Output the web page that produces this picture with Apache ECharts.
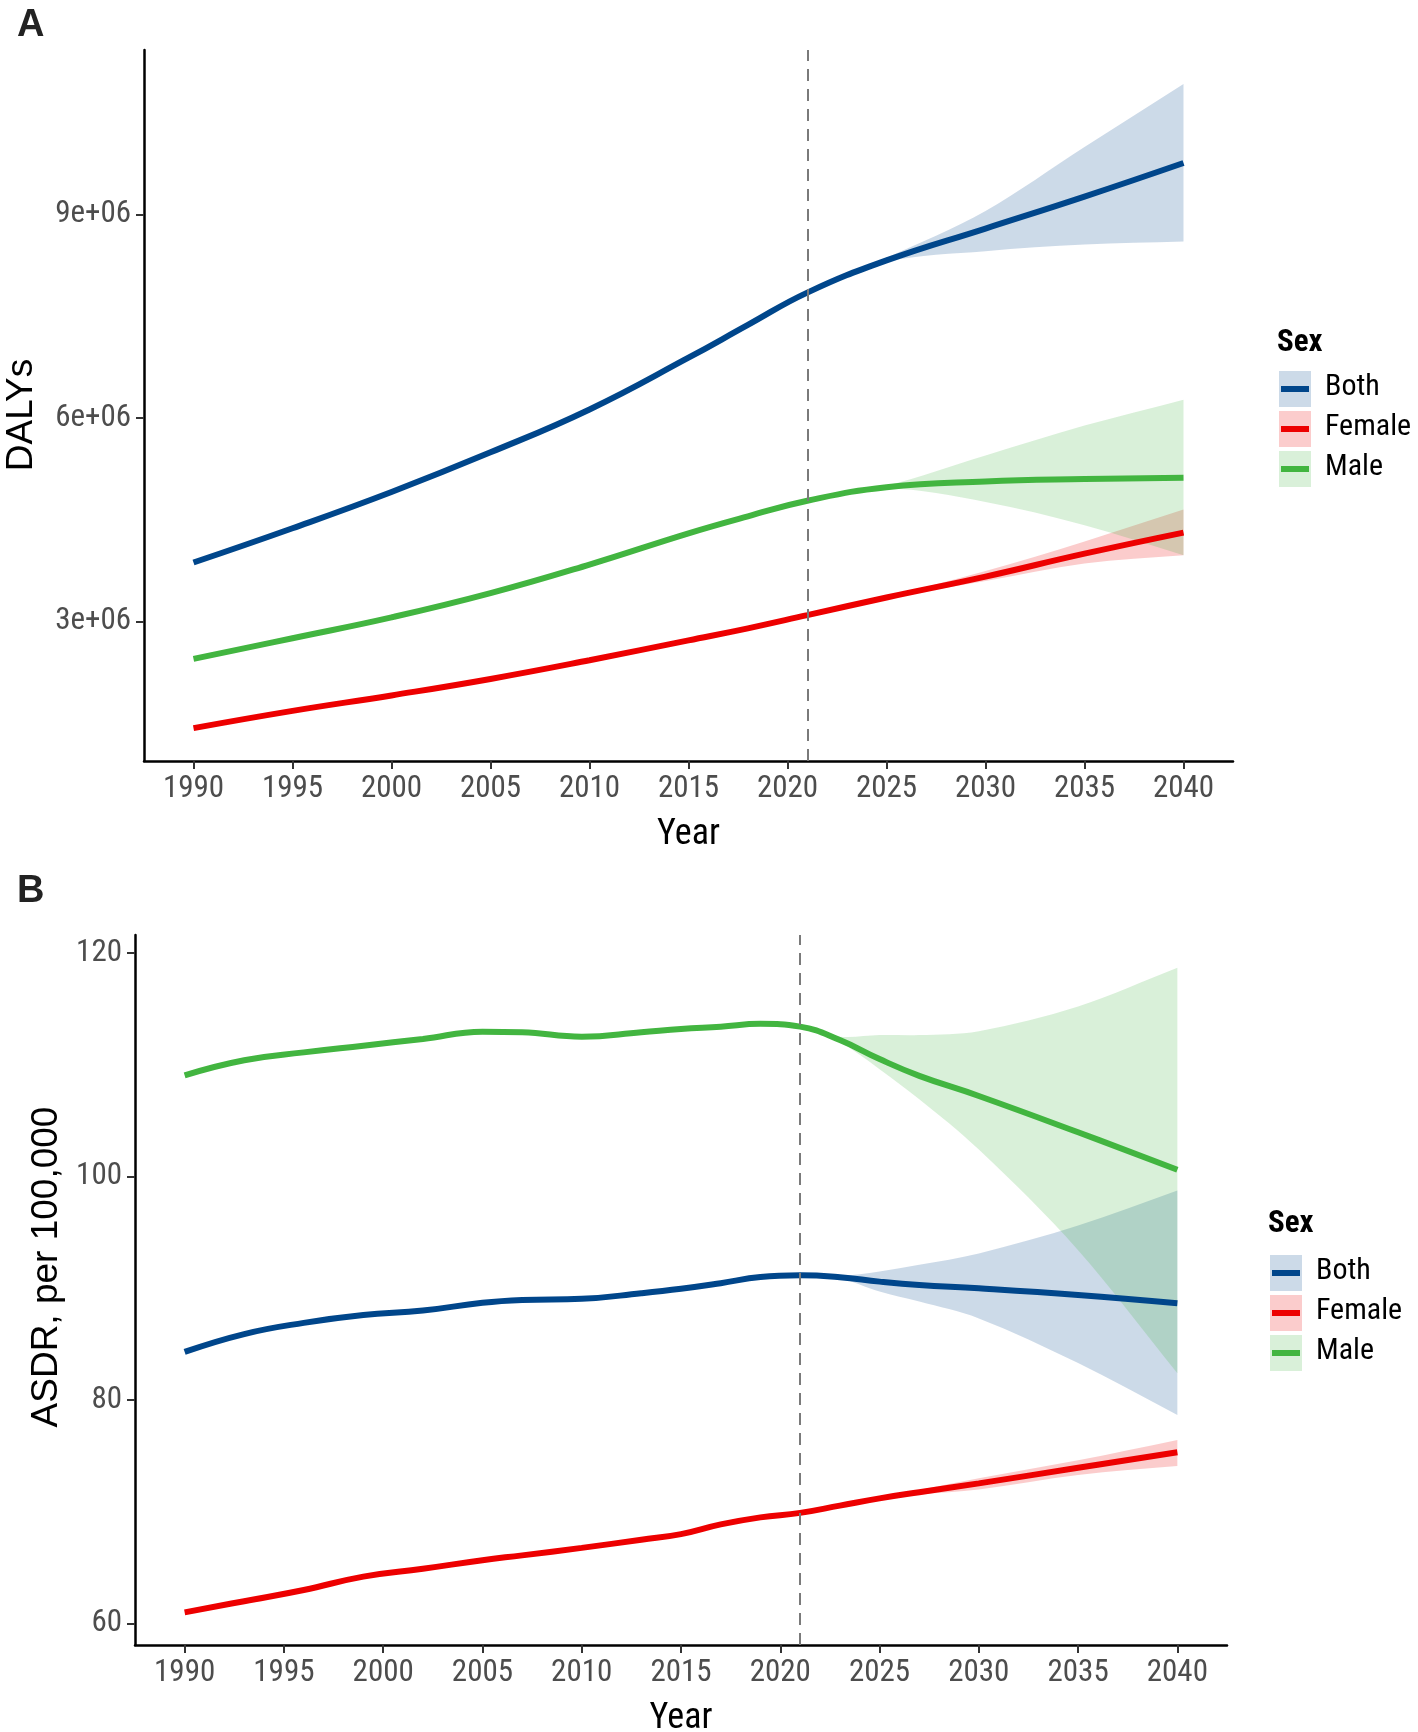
<!DOCTYPE html>
<html>
<head>
    <meta charset="UTF-8">
    <title>DALYs and ASDR by sex, 1990-2040</title>
    <script src="https://cdn.jsdelivr.net/npm/echarts@6/dist/echarts.min.js"></script>
    <style>
        body, html {
            margin: 0;
            background: #fff;
        }
        #main {
            width: 1418px;
            height: 1732px;
        }
    </style>
</head>
<body>
<div id="main"></div>

<script>
    // ---- data ----
    var sexes = ['Both', 'Female', 'Male'];
    var colors = ['#00468B', '#ED0000', '#42B540'];
    var bands = ['rgba(0,70,139,0.2)', 'rgba(237,0,0,0.2)', 'rgba(66,181,64,0.2)'];

    // panel A: DALYs
    var yearsA = [1990, 1995, 2000, 2005, 2010, 2015, 2018, 2021, 2025, 2030, 2035, 2040];
    var bothA = [3870000, 4375000, 4909000, 5493000, 6125000, 6887000, 7370000, 7846000, 8320000, 8790000, 9260000, 9755000];
    var femaleA = [1430000, 1684000, 1912000, 2155000, 2430000, 2723000, 2900000, 3094000, 3354000, 3662000, 4000000, 4311000];
    var maleA = [2450000, 2755000, 3062000, 3419000, 3840000, 4300000, 4550000, 4780000, 4980000, 5065000, 5100000, 5119000];
    var bandYearsA = [2021, 2025, 2030, 2035, 2040];
    var bothLoA = [7846000, 8300000, 8457000, 8555000, 8600000];
    var bothHiA = [7846000, 8360000, 9050000, 9990000, 10920000];
    var femaleLoA = [3094000, 3345000, 3598000, 3856000, 3978000];
    var femaleHiA = [3094000, 3362000, 3744000, 4180000, 4650000];
    var maleLoA = [4780000, 4960000, 4762000, 4420000, 3978000];
    var maleHiA = [4780000, 5000000, 5447000, 5887000, 6269000];

    // panel B: ASDR per 100,000
    var yearsB = [1990, 1993, 1996, 1999, 2002, 2005, 2007, 2010, 2013, 2015, 2017, 2019, 2021, 2023, 2025, 2027, 2030, 2035, 2040];
    var bothB = [84.3, 85.9, 86.9, 87.6, 88.0, 88.7, 88.95, 89.05, 89.55, 89.95, 90.45, 91.0, 91.15, 90.98, 90.59, 90.29, 90.0, 89.4, 88.66];
    var femaleB = [61.0, 62.0, 63.0, 64.2, 64.9, 65.67, 66.1, 66.77, 67.5, 68.0, 68.87, 69.5, 69.9, 70.55, 71.2, 71.75, 72.54, 73.94, 75.33];
    var maleB = [109.05, 110.4, 111.1, 111.7, 112.3, 112.95, 112.9, 112.5, 112.9, 113.2, 113.4, 113.65, 113.4, 112.2, 110.5, 109.0, 107.2, 103.95, 100.6];
    var bandYearsB = [2021, 2023, 2025, 2027, 2030, 2035, 2040];
    var bothLoB = [91.15, 90.9, 89.7, 88.8, 87.3, 83.3, 78.65];
    var bothHiB = [91.15, 91.1, 91.5, 92.09, 93.1, 95.6, 98.74];
    var femaleLoB = [69.9, 70.55, 71.1, 71.55, 72.0, 73.3, 74.09];
    var femaleHiB = [69.9, 70.55, 71.3, 71.95, 73.0, 74.6, 76.42];
    var maleLoB = [113.4, 112.0, 109.6, 106.9, 102.4, 93.4, 82.39];
    var maleHiB = [113.4, 112.5, 112.65, 112.65, 113.0, 115.2, 118.66];

    var yearTicks = [1990, 1995, 2000, 2005, 2010, 2015, 2020, 2025, 2030, 2035, 2040];
    var ticksA = [3000000, 6000000, 9000000];
    var ticksB = [60, 80, 100, 120];
    var forecastStart = 2021;

    var narrow = "'Liberation Sans Narrow', 'Arial Narrow', 'Roboto Condensed', 'DejaVu Sans Condensed', sans-serif";
    var sans = "'Liberation Sans', Arial, sans-serif";

    function pairs(xs, ys) {
        return xs.map(function (x, i) { return [x, ys[i]]; });
    }

    function xAxisFor(gridIndex) {
        return {
            type: 'value', gridIndex: gridIndex, min: 1987.5, max: 2042.5,
            name: 'Year', nameLocation: 'middle', nameGap: 56,
            nameTextStyle: {fontSize: 36, fontFamily: narrow, color: '#000'},
            splitLine: {show: false},
            axisLine: {onZero: false, lineStyle: {color: '#000', width: 2.5}},
            axisTick: {customValues: yearTicks, length: 8, lineStyle: {color: '#333', width: 2}},
            axisLabel: {
                customValues: yearTicks, fontSize: 31, fontFamily: narrow, color: '#4d4d4d', margin: 13,
                formatter: function (v) { return String(v); }
            }
        };
    }

    function yAxisFor(gridIndex, min, max, ticks, name, gap, shift, fmt) {
        return {
            type: 'value', gridIndex: gridIndex, min: min, max: max,
            name: name, nameLocation: 'middle', nameGap: gap, nameRotate: 90,
            nameTextStyle: {fontSize: 37, fontFamily: sans, color: '#000', padding: shift},
            splitLine: {show: false},
            axisLine: {show: true, onZero: false, lineStyle: {color: '#000', width: 2.5}},
            axisTick: {customValues: ticks, length: 8, lineStyle: {color: '#333', width: 2}},
            axisLabel: {customValues: ticks, fontSize: 31, fontFamily: narrow, color: '#4d4d4d', margin: 13, formatter: fmt}
        };
    }

    function lineSeries(idx, name, xs, ys, color, withMark) {
        var s = {
            type: 'line', name: name, xAxisIndex: idx, yAxisIndex: idx,
            data: pairs(xs, ys), showSymbol: false, symbol: 'none',
            smooth: 0.45, silent: true,
            lineStyle: {color: color, width: 6},
            z: 2
        };
        if (withMark) {
            s.markLine = {
                silent: true, symbol: ['none', 'none'], label: {show: false},
                lineStyle: {color: '#7a7a7a', type: [12, 8], width: 2},
                data: [{xAxis: forecastStart}]
            };
        }
        return s;
    }

    // cubic Bezier through screen points, tangents from neighbouring slopes
    function curveThrough(p) {
        function slope(i) {
            var a = p[Math.max(i - 1, 0)], b = p[Math.min(i + 1, p.length - 1)];
            return (b[1] - a[1]) / (b[0] - a[0]);
        }
        var s = '';
        for (var i = 0; i < p.length - 1; i++) {
            var p1 = p[i], p2 = p[i + 1], dx = (p2[0] - p1[0]) / 3;
            s += ' C' + (p1[0] + dx) + ',' + (p1[1] + slope(i) * dx) + ' ' +
                (p2[0] - dx) + ',' + (p2[1] - slope(i + 1) * dx) + ' ' + p2[0] + ',' + p2[1];
        }
        return s;
    }

    // uncertainty ribbon, drawn with the axis scales of its grid
    function bandSeries(idx, xs, lo, hi, fill) {
        return {
            type: 'custom', xAxisIndex: idx, yAxisIndex: idx, silent: true, z: 2,
            data: xs.map(function (x, i) { return [x, lo[i], hi[i]]; }),
            encode: {x: 0, y: [1, 2]},
            renderItem: function (params, api) {
                if (params.dataIndex !== 0) return null;
                var top = xs.map(function (x, i) { return api.coord([x, hi[i]]); });
                var bot = xs.map(function (x, i) { return api.coord([x, lo[i]]); }).reverse();
                var d = 'M' + top[0][0] + ',' + top[0][1] + curveThrough(top) +
                    ' L' + bot[0][0] + ',' + bot[0][1] + curveThrough(bot) + ' Z';
                return {type: 'path', shape: {pathData: d}, style: {fill: fill}};
            }
        };
    }

    var series = [];
    series.push(lineSeries(0, 'Both', yearsA, bothA, colors[0], true));
    series.push(lineSeries(0, 'Female', yearsA, femaleA, colors[1], false));
    series.push(lineSeries(0, 'Male', yearsA, maleA, colors[2], false));
    series.push(bandSeries(0, bandYearsA, bothLoA, bothHiA, bands[0]));
    series.push(bandSeries(0, bandYearsA, femaleLoA, femaleHiA, bands[1]));
    series.push(bandSeries(0, bandYearsA, maleLoA, maleHiA, bands[2]));

    series.push(lineSeries(1, 'Both', yearsB, bothB, colors[0], true));
    series.push(lineSeries(1, 'Female', yearsB, femaleB, colors[1], false));
    series.push(lineSeries(1, 'Male', yearsB, maleB, colors[2], false));
    series.push(bandSeries(1, bandYearsB, bothLoB, bothHiB, bands[0]));
    series.push(bandSeries(1, bandYearsB, femaleLoB, femaleHiB, bands[1]));
    series.push(bandSeries(1, bandYearsB, maleLoB, maleHiB, bands[2]));

    // ggplot-like legend: light box + coloured line + label
    function legendGraphics(left, top, keyTop) {
        var els = [{
            type: 'text', left: left, top: top,
            style: {text: 'Sex', fontSize: 31, fontWeight: 'bold', fontFamily: narrow, fill: '#000'}
        }];
        sexes.forEach(function (s, i) {
            var y = keyTop + i * 40;
            els.push({type: 'rect', left: left + 2, top: y, shape: {width: 32, height: 36}, style: {fill: bands[i]}});
            els.push({type: 'rect', left: left + 4, top: y + 15, shape: {width: 28, height: 6}, style: {fill: colors[i]}});
            els.push({
                type: 'text', left: left + 48, top: y + 1,
                style: {text: s, fontSize: 30, fontFamily: narrow, fill: '#000'}
            });
        });
        return els;
    }

    var chart = echarts.init(document.getElementById('main'), null, {renderer: 'canvas'});

    var option = {
        backgroundColor: '#fff',
        animation: false,
        title: [
            {text: 'A', left: 12, top: 2, textStyle: {fontSize: 38, fontWeight: 'bold', fontFamily: sans, color: '#222'}},
            {text: 'B', left: 12, top: 868, textStyle: {fontSize: 38, fontWeight: 'bold', fontFamily: sans, color: '#222'}}
        ],
        grid: [
            {left: 144, top: 50, width: 1089, height: 711, outerBoundsMode: 'none'},
            {left: 135, top: 935, width: 1092, height: 710, outerBoundsMode: 'none'}
        ],
        xAxis: [xAxisFor(0), xAxisFor(1)],
        yAxis: [
            yAxisFor(0, 946000, 11420000, ticksA, 'DALYs', 104, [0, 19, 0, 0], function (v) { return (v / 1e6) + 'e+06'; }),
            yAxisFor(1, 58.08, 121.6, ticksB, 'ASDR, per 100,000', 60, [0, 0, 0, 46], function (v) { return String(v); })
        ],
        graphic: legendGraphics(1277, 328, 371).concat(legendGraphics(1268, 1209, 1255)),
        series: series
    };

    chart.setOption(option);
</script>
</body>
</html>
